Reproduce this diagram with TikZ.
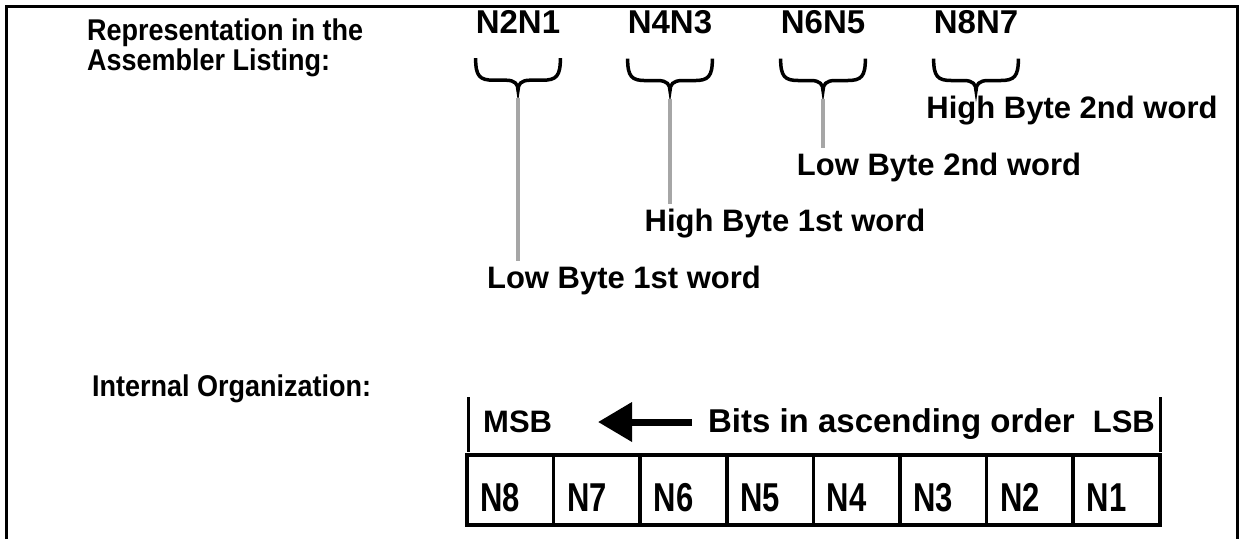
\documentclass[tikz,border=0pt]{standalone}
\usepackage{fontspec}
\setmainfont{Liberation Sans}
\newfontfamily\condfont{Liberation Sans}[FakeStretch=0.9]
\usetikzlibrary{arrows.meta, positioning, calc}

\tikzset{
  txt/.style={inner sep=0pt, font=\fontsize{31}{23}\selectfont\bfseries},
  head/.style={inner sep=0pt, font=\condfont\fontsize{30}{24}\selectfont\bfseries},
  nlab/.style={inner sep=0pt, font=\fontsize{33}{33}\selectfont\bfseries},
  hatch/.style={draw=gray!70, line width=4pt},
  cell/.style={draw, line width=3.5pt, minimum width=86.5pt, minimum height=70pt, inner sep=0pt},
  bar/.style={line width=3pt},
}
\newcommand{\tall}[1]{\scalebox{1}[1.3]{#1}}

\begin{document}
\begin{tikzpicture}[x=1pt, y=-1pt]
  % cadre et zone du dessin
  \useasboundingbox (0,0) rectangle (1241,539);
  \draw[line width=3pt] (6,539) -- (6,6) -- (1237,6) -- (1237,539);

  % partie haute : listing assembleur
  \node[head, anchor=base west] (repr) at (87,40) {Representation in the};
  \node[head, anchor=base west] (asm) at (87,70) {Assembler Listing:};

  \node[nlab, anchor=base] (n21) at (518,33) {N2N1};
  \node[nlab, anchor=base] (n43) at (670,33) {N4N3};
  \node[nlab, anchor=base] (n65) at (823,33) {N6N5};
  \node[nlab, anchor=base] (n87) at (976,33) {N8N7};

  % accolades sous chaque paire
  \foreach \n in {n21,n43,n65,n87}{
    \draw[line width=3.5pt]
      ($(\n.south west)+(0,25)$) .. controls +(0,18) and +(-14,0) .. ($(\n.south west)+(18,47)$)
      -- ($(\n.south)+(-12,47)$) .. controls +(9,0) and +(0,-6) .. ($(\n.south)+(0,57)$)
      coordinate (\n-tip)
      .. controls +(0,-6) and +(-9,0) .. ($(\n.south)+(12,47)$)
      -- ($(\n.south east)+(-18,47)$) .. controls +(14,0) and +(0,18) .. ($(\n.south east)+(0,25)$);
  }

  \node[txt, anchor=base] (lb1) at (624,288) {Low Byte 1st word};
  \node[txt, anchor=base] (hb1) at (785,231) {High Byte 1st word};
  \node[txt, anchor=base] (lb2) at (939,175) {Low Byte 2nd word};
  \node[txt, anchor=base] (hb2) at (1072,118) {High Byte 2nd word};

  \draw[hatch] ($(n21-tip)+(0,8)$) -- ($(n21-tip |- lb1.north)+(0,-4)$);
  \draw[hatch] ($(n43-tip)+(0,8)$) -- ($(n43-tip |- hb1.north)+(0,-4)$);
  \draw[hatch] ($(n65-tip)+(0,8)$) -- ($(n65-tip |- lb2.north)+(0,-4)$);

  % partie basse : organisation interne
  \node[head, anchor=base west] (intorg) at (92,396) {Internal Organization:};

  \draw[bar] (468,397) -- (468,452);
  \draw[bar] (1160,397) -- (1160,452);
  \node[txt, anchor=base west] (msb) at (483,432) {MSB};
  \node[txt, anchor=base east] (lsb) at (1155,432) {LSB};
  \node[txt, anchor=base east, font=\fontsize{33}{33}\selectfont\bfseries] (bits) at (1075,432) {Bits in ascending order};
  \coordinate (arrS) at (692,422);
  \coordinate (arrE) at (598,422);
  \draw[line width=7pt, -{Triangle[length=34pt, width=38pt]}] (arrS) -- (arrE);

  \foreach \t [count=\i] in {N8,N7,N6,N5,N4,N3,N2,N1}{
    \node[cell] (c\i) at ({467+86.6*(\i-0.5)},490) {};
    \node[txt, anchor=base west] at ($(c\i.west)+(15,21)$) {\tall{\t}};
  }
\end{tikzpicture}
\end{document}
